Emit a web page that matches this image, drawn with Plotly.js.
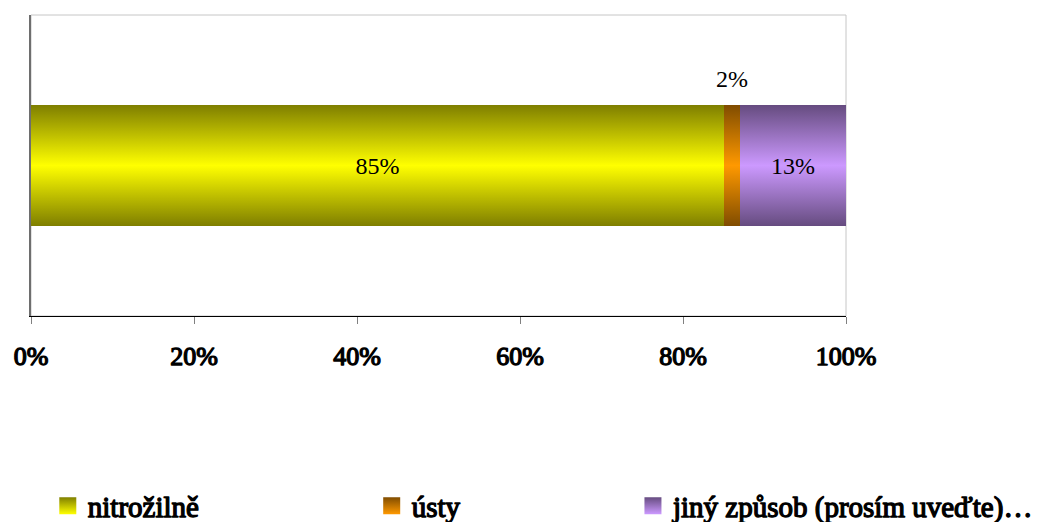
<!DOCTYPE html>
<html>
<head>
<meta charset="utf-8">
<script src="https://cdn.plot.ly/plotly-3.0.1.min.js"></script>
<style>
  html, body { margin: 0; padding: 0; background: #ffffff; }
  #chart { width: 1062px; height: 522px; }
</style>
</head>
<body>
<div id="chart"></div>
<script>
// Route of administration – share of answers (%)
const categories = ['nitrožilně', 'ústy', 'jiný způsob (prosím uveďte)…'];
const shares = [85, 2, 13];
const rowLabel = [''];
const tickValues = [0, 20, 40, 60, 80, 100];

// dark edge / bright centre colour for each segment
const darkColors = ['#7f7f00', '#804c00', '#664c80'];
const brightColors = ['#ffff00', '#ff9900', '#cc99ff'];

// horizontal position (fraction of page width) of each legend key
const legendSlots = [0.045, 0.350, 0.596];
const legendIds = ['legend', 'legend2', 'legend3'];

const serif = 'Liberation Serif, Times New Roman, serif';
const tickText = tickValues.map(v => v + '%');

const traces = categories.map((name, i) => ({
  type: 'bar',
  orientation: 'h',
  name: name,
  legend: legendIds[i],
  y: rowLabel,
  x: [shares[i]],
  width: 0.4,
  marker: { color: brightColors[i], line: { width: 0 } },
  text: [shares[i] + '%'],
  textposition: shares[i] >= 5 ? 'inside' : 'none',
  insidetextanchor: 'middle',
  textfont: { family: serif, size: 24, color: '#000000' },
  hoverinfo: 'skip'
}));

// small segment: label placed above the bar
const annotations = [];
let cumulative = 0;
shares.forEach((v, i) => {
  if (v < 5) {
    annotations.push({
      xref: 'x', yref: 'y',
      x: cumulative + v / 2, y: 0.2,
      yanchor: 'bottom', xanchor: 'center',
      yshift: 11,
      text: v + '%',
      showarrow: false,
      font: { family: serif, size: 24, color: '#000000' }
    });
  }
  cumulative += v;
});

const layout = {
  width: 1062,
  height: 522,
  margin: { l: 31, r: 216, t: 15, b: 206, autoexpand: false },
  paper_bgcolor: '#ffffff',
  plot_bgcolor: '#ffffff',
  barmode: 'stack',
  showlegend: true,
  xaxis: {
    range: [0, 100],
    tickvals: tickValues,
    ticktext: tickText,
    showgrid: false,
    zeroline: false,
    showline: true,
    linecolor: '#000000',
    linewidth: 1,
    ticks: 'outside',
    ticklen: 7,
    tickcolor: '#808080',
    ticklabelstandoff: 10,
    tickfont: { family: serif, size: 26, color: '#000000' },
    fixedrange: true
  },
  yaxis: {
    range: [-0.5, 0.5],
    showticklabels: false,
    showgrid: false,
    zeroline: false,
    showline: true,
    linecolor: '#6e6e6e',
    linewidth: 2,
    ticks: '',
    fixedrange: true
  },
  shapes: [{
    type: 'rect', xref: 'paper', yref: 'paper',
    x0: 0, x1: 1, y0: 0, y1: 1,
    line: { color: '#c6c6c6', width: 1 },
    layer: 'below'
  }],
  annotations: annotations,
  font: { family: serif }
};

legendIds.forEach((id, i) => {
  layout[id] = {
    orientation: 'h',
    xref: 'container', yref: 'container',
    x: legendSlots[i], xanchor: 'left',
    y: 0.031, yanchor: 'middle',
    font: { family: serif, size: 29, color: '#000000' },
    bgcolor: 'rgba(0,0,0,0)',
    borderwidth: 0
  };
});

// heavier strokes on the serif face give the bold look for axis and key labels
function embolden(gd) {
  const wanted = new Set(categories.concat(tickText));
  gd.querySelectorAll('text').forEach(t => {
    if (wanted.has(t.textContent.trim()) && !t.closest('.barlayer') && !t.closest('.annotation')) {
      t.style.stroke = '#000000';
      t.style.strokeWidth = '1.3px';
      t.style.strokeLinejoin = 'round';
      t.style.paintOrder = 'stroke';
    }
  });
}

function decorate(gd) {
  const svg = gd.querySelector('svg.main-svg');
  const ns = 'http://www.w3.org/2000/svg';
  let defs = svg.querySelector('defs');
  if (!defs) { defs = document.createElementNS(ns, 'defs'); svg.insertBefore(defs, svg.firstChild); }

  function makeGradient(id, stops) {
    if (defs.querySelector('#' + id)) return;
    const g = document.createElementNS(ns, 'linearGradient');
    g.setAttribute('id', id);
    g.setAttribute('x1', '0'); g.setAttribute('y1', '0');
    g.setAttribute('x2', '0'); g.setAttribute('y2', '1');
    stops.forEach(([off, col]) => {
      const s = document.createElementNS(ns, 'stop');
      s.setAttribute('offset', off);
      s.setAttribute('stop-color', col);
      g.appendChild(s);
    });
    defs.appendChild(g);
  }

  categories.forEach((_, i) => {
    makeGradient('barfill' + i, [['0', darkColors[i]], ['0.5', brightColors[i]], ['1', darkColors[i]]]);
    makeGradient('keyfill' + i, [['0', darkColors[i]], ['1', brightColors[i]]]);
  });

  gd.querySelectorAll('.barlayer .trace').forEach((tr, i) => {
    tr.querySelectorAll('.point path').forEach(p => { p.style.fill = 'url(#barfill' + i + ')'; });
  });
  legendIds.forEach((id, i) => {
    gd.querySelectorAll('.' + id + ' .legendpoints path').forEach(p => {
      p.setAttribute('d', 'M8.5,8.5H-8.5V-8.5H8.5Z');
      p.style.fill = 'url(#keyfill' + i + ')';
      p.style.stroke = 'none';
    });
  });
  embolden(gd);
}

Plotly.newPlot('chart', traces, layout, { staticPlot: true, displayModeBar: false })
  .then(gd => {
    decorate(gd);
    setTimeout(() => embolden(gd), 50);
    setTimeout(() => embolden(gd), 300);
  });
</script>
</body>
</html>
